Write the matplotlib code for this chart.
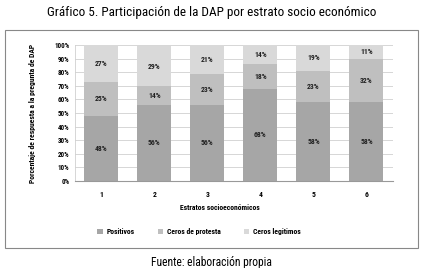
import matplotlib.pyplot as plt
from matplotlib.patches import Rectangle
import numpy as np

plt.rcParams['font.family'] = ['Roboto Condensed', 'DejaVu Sans']

estratos = ['1', '2', '3', '4', '5', '6']
positivos = [48, 56, 56, 68, 58, 58]
protesta = [25, 14, 23, 18, 23, 32]
legitimos = [27, 29, 21, 14, 19, 11]
series_names = ['Positivos', 'Ceros de protesta', 'Ceros legitimos']
colors = ['#a6a6a6', '#bfbfbf', '#d9d9d9']

fig = plt.figure(figsize=(4.23, 2.68), dpi=100, facecolor='white')
ax = fig.add_axes([0.177, 0.325, 0.752, 0.507])

x = np.arange(len(estratos))
bottom = np.zeros(len(estratos))
for vals, name, c in zip([positivos, protesta, legitimos], series_names, colors):
    v = np.array(vals, dtype=float)
    ax.bar(x, v, 0.64, bottom=bottom, color=c, label=name, zorder=2)
    for xi, b, h in zip(x, bottom, v):
        ax.text(xi, b + h / 2, f'{int(h)}%', ha='center', va='center',
                fontsize=5.5, fontweight='bold', color='#222222', zorder=3)
    bottom += v

ax.set_xlim(-0.5, 5.5)
ax.set_ylim(0, 100)
ax.set_yticks(range(0, 101, 10))
ax.set_yticklabels([f'{t}%' for t in range(0, 101, 10)], fontsize=5, fontweight='bold')
ax.set_xticks(x)
ax.set_xticklabels(estratos, fontsize=5.5, fontweight='bold')
ax.tick_params(length=0, pad=4)
ax.tick_params(axis='x', pad=7)
ax.yaxis.grid(True, color='#d0d0d0', linewidth=0.6, zorder=0)
ax.set_axisbelow(True)
for s in ['top', 'right']:
    ax.spines[s].set_visible(False)
ax.spines['left'].set_color('#d0d0d0')
ax.spines['left'].set_linewidth(0.6)
ax.spines['bottom'].set_color('#999999')
ax.spines['bottom'].set_linewidth(0.8)

ax.set_xlabel('Estratos socioeconómicos', fontsize=5.5, fontweight='bold')
ax.xaxis.set_label_coords(0.456, -0.17)
ax.set_ylabel('Porcentaje de respuesta a la pregunta de DAP', fontsize=5.5,
              fontweight='bold', labelpad=13)

ax.legend(loc='center', bbox_to_anchor=(0.39, -0.375), ncol=3, frameon=False,
          prop={'size': 5.5, 'weight': 'bold'}, handlelength=0.7, handleheight=0.7,
          columnspacing=3.0, handletextpad=0.5)

fig.text(0.5, 0.955, 'Gráfico 5. Participación de la DAP por estrato socio económico',
         ha='center', va='center', fontsize=9.5)
fig.text(0.5, 0.022, 'Fuente: elaboración propia', ha='center', va='center',
         fontsize=8.3)
fig.patches.append(Rectangle((5 / 423, 20 / 268), 413 / 423, 218 / 268,
                             transform=fig.transFigure, fill=False,
                             edgecolor='#888888', linewidth=0.8))

fig.savefig('out.png', dpi=100)
